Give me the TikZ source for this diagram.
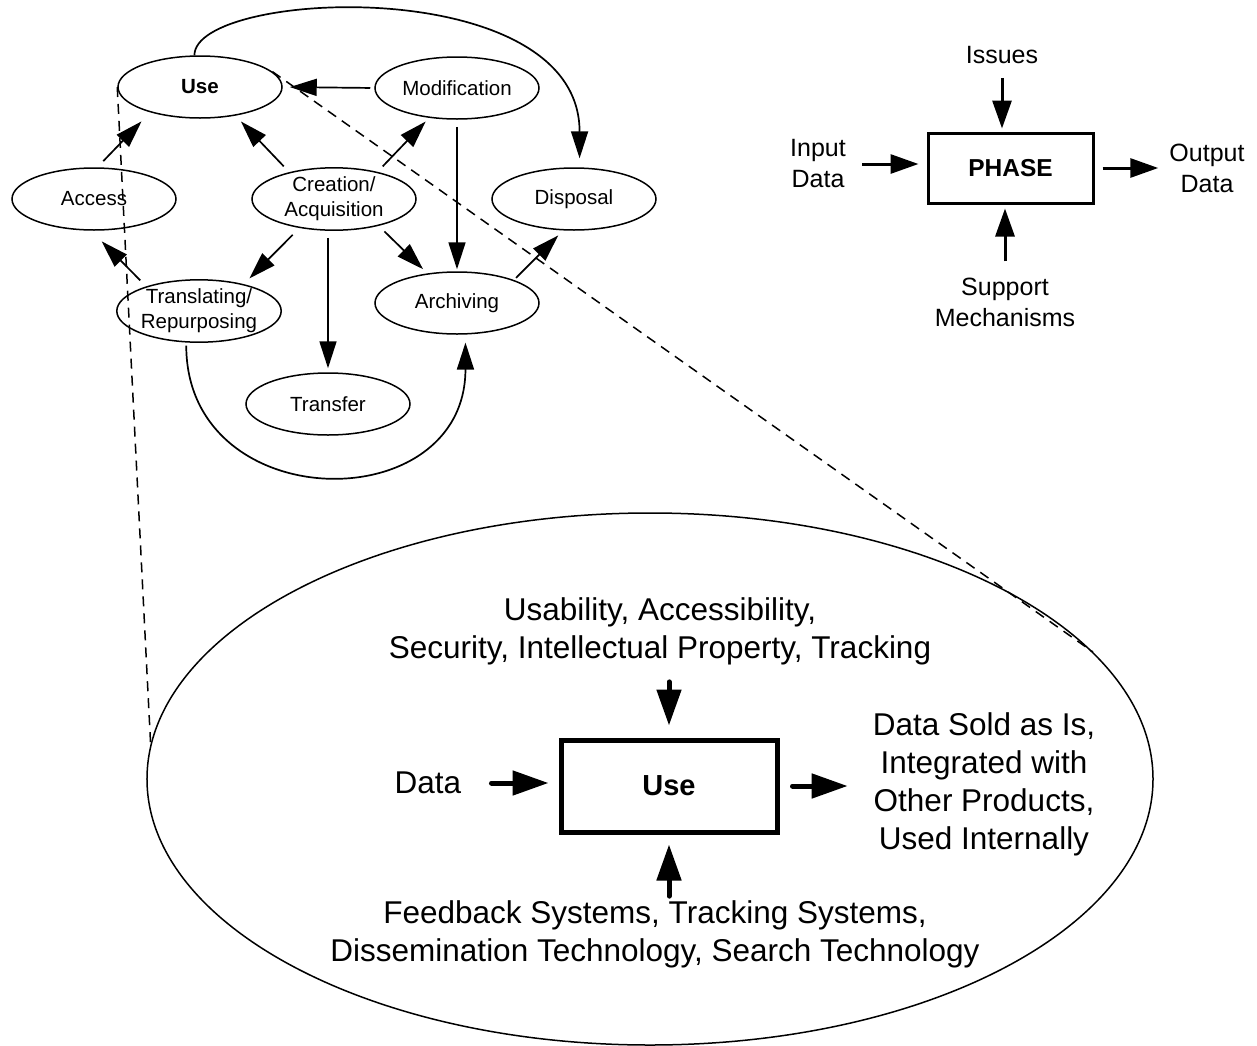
\documentclass[tikz,border=0pt]{standalone}
\usepackage{fontspec}
\setmainfont{Liberation Sans}
\usetikzlibrary{shapes.geometric,arrows.meta}

\begin{document}
\begin{tikzpicture}[x=1bp,y=1bp,
stage/.style={ellipse,draw,line width=1.5bp,minimum width=164bp,minimum height=62bp,inner sep=0pt,align=center,font=\fontsize{20.5bp}{25bp}\selectfont},
flow/.style={-{Triangle[length=27bp,width=17bp]},line width=1.7bp},
phaseblock/.style={draw,rectangle,line width=3bp,minimum width=165bp,minimum height=70bp,font=\fontsize{24.5bp}{29bp}\selectfont\bfseries},
phaselabel/.style={inner sep=0pt,align=center,font=\fontsize{25bp}{31bp}\selectfont},
phaseflow/.style={-{Triangle[length=28bp,width=19bp]},line width=3bp},
useblock/.style={draw,rectangle,line width=5bp,minimum width=216bp,minimum height=92bp,font=\fontsize{29bp}{35bp}\selectfont\bfseries},
uselabel/.style={inner sep=0pt,align=center,font=\fontsize{31.5bp}{38bp}\selectfont},
useflow/.style={-{Triangle[length=36bp,width=24bp]},line width=5bp,line cap=round},
zoomline/.style={dash pattern=on 10bp off 7bp,line width=1.5bp}]
\useasboundingbox (0,0) rectangle (1257,-1046);

% life cycle
\node[stage] (use) at (200,-87) {\bfseries Use};
\node[stage] (mod) at (457,-88) {Modification};
\node[stage] (acc) at (94,-199) {Access};
\node[stage] (crea) at (334,-199) {Creation/\\Acquisition};
\node[stage] (disp) at (574,-199) {Disposal};
\node[stage] (trans) at (199,-311) {Translating/\\Repurposing};
\node[stage] (arch) at (457,-303) {Archiving};
\node[stage] (tran) at (328,-404) {Transfer};

\draw[flow,shorten <=8.5bp,shorten >=12.5bp] (acc.84) -- (use.207);
\draw[flow,shorten <=8bp,shorten >=8bp] (crea.149) -- (use.-39);
\draw[flow,shorten <=7.5bp,shorten >=5bp] (crea.32) -- (mod.227);
\draw[flow,shorten <=4bp,shorten >=7bp] (mod.west) -- (use.east);
\draw[flow,shorten <=7bp,shorten >=2bp] (mod.south) -- (arch.north);
\draw[flow,shorten <=9.5bp,shorten >=8bp] (crea.220) -- (trans.31);
\draw[flow,shorten <=7bp,shorten >=4bp] (tran.north |- crea.south) -- (tran.north);
\draw[flow,shorten <=8bp,shorten >=6bp] (crea.-31) -- (arch.135);
\draw[flow,shorten <=8.5bp,shorten >=15bp] (trans.155) -- (acc.265);
\draw[flow,shorten <=3bp,shorten >=7bp] (arch.22) -- (disp.251);
\draw[flow,shorten >=9bp] (use.100) .. controls +(0,66) and +(0,196) .. (disp.80);
\draw[flow,shorten <=3bp,shorten >=8bp] (trans.248) .. controls +(0,-175) and +(0,-186) .. (arch.285);

% generic phase
\node[phaseblock] (phase) at (1010.5,-168) {PHASE};
\node[phaselabel] (issues) at (1002,-55) {Issues};
\node[phaselabel] (input) at (818,-164) {Input\\Data};
\node[phaselabel] (output) at (1207,-168) {Output\\Data};
\node[phaselabel] (support) at (1005,-302) {Support\\Mechanisms};
\draw[phaseflow,shorten <=14bp,shorten >=3bp] (issues.south) -- (issues.south |- phase.north);
\draw[phaseflow,shorten <=16bp,shorten >=4bp] (support.north) -- (support.north |- phase.south);
\draw[phaseflow,shorten <=16bp,shorten >=8bp] (input.east) -- (input.east -| phase.west);
\draw[phaseflow,shorten <=8bp,shorten >=11bp] (phase.east) -- (phase.east -| output.west);

% zoom on use
\node[ellipse,draw,line width=1.5bp,minimum width=1006bp,minimum height=532bp] (zoom) at (650,-779) {};
\draw[zoomline] (use.west) -- (zoom.176);
\draw[zoomline] (use.12) -- (zoom.16);

\node[useblock] (usebox) at (669,-786) {Use};
\node[uselabel] (usabil) at (660,-631) {Usability, Accessibility,\\Security, Intellectual Property, Tracking};
\node[uselabel] (data) at (428,-783) {Data};
\node[uselabel] (sold) at (984,-784) {Data Sold as Is,\\Integrated with\\Other Products,\\Used Internally};
\node[uselabel] (feedb) at (655,-934) {Feedback Systems, Tracking Systems,\\Dissemination Technology, Search Technology};
\draw[useflow,shorten <=17bp,shorten >=12bp] (usebox.north |- usabil.south) -- (usebox.north);
\draw[useflow,shorten <=4bp,shorten >=10bp] (usebox.south |- feedb.north) -- (usebox.south);
\draw[useflow,shorten <=30bp,shorten >=10bp] (data.east) -- (data.east -| usebox.west);
\draw[useflow,shorten <=13bp,shorten >=25bp] (usebox.east) -- (usebox.east -| sold.west);

\end{tikzpicture}
\end{document}
